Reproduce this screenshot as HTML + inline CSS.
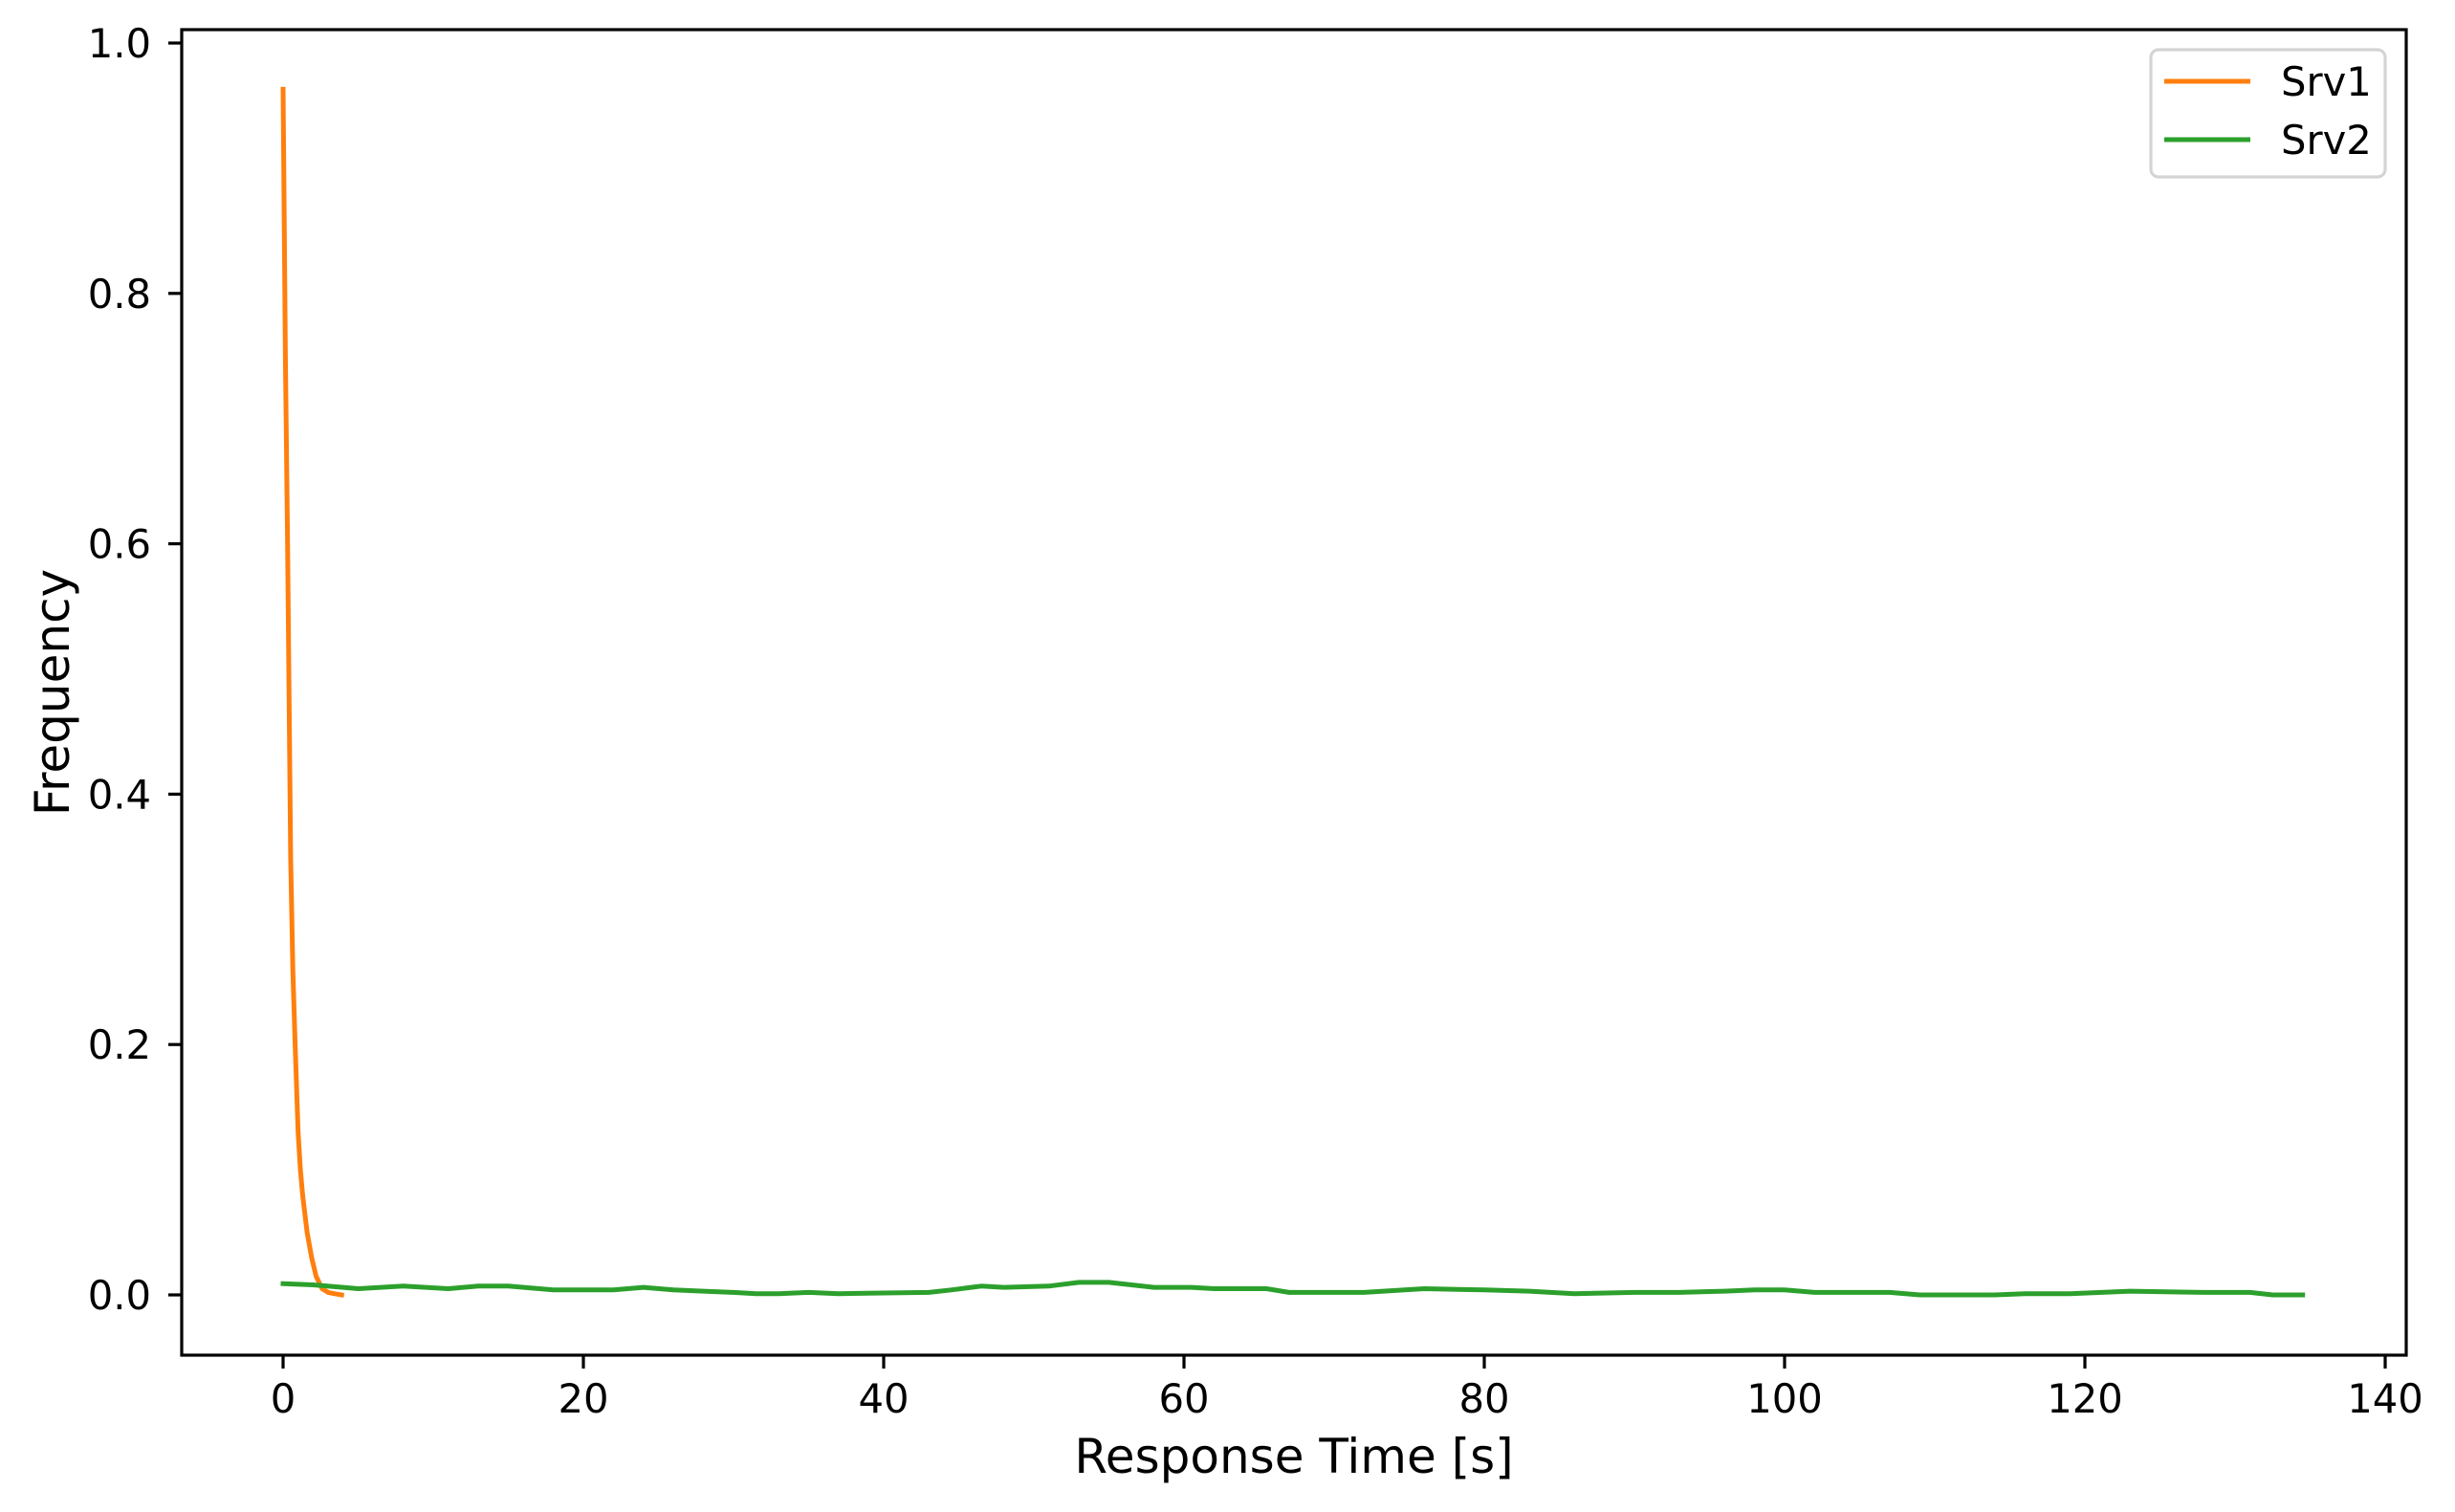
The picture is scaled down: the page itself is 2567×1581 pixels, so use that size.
<!DOCTYPE html>
<html><head><meta charset="utf-8"><style>
html,body{margin:0;padding:0;background:#fff;}
svg{display:block;font-family:"DejaVu Sans","Liberation Sans",sans-serif;}
</style></head><body>
<svg id="chart" width="2567" height="1581" viewBox="0 0 2567 1581" xmlns="http://www.w3.org/2000/svg">
<rect width="2567" height="1581" fill="#fff"/>
<g id="plot"></g>
<g id="axes"></g>
</svg>
<script>
const xTicks=[0,20,40,60,80,100,120,140];
const yTicks=[0.0,0.2,0.4,0.6,0.8,1.0];
const yTickLabels=["0.0","0.2","0.4","0.6","0.8","1.0"];
const srv1X=[0,0.15,0.3,0.5,0.65,0.8,1.0,1.15,1.3,1.6,1.9,2.2,2.6,3.0,3.4,3.9];
const srv1Y=[0.963,0.75,0.6,0.35,0.26,0.2,0.13,0.1,0.08,0.05,0.03,0.015,0.005,0.002,0.001,0.0];
const srv2X=[0,2,4,5,8,11,13,15,18,20,22,24,26,28,30,31.5,33,35,37,40,43,44.5,46.5,48,51,53,55,58,60.5,62,65.5,67,70,72,76,80,83,86,90,93,96,98,100,102,107,109,114,116,119,123,128,131,132.5,134.5];
const srv2Y=[0.009,0.008,0.006,0.005,0.007,0.005,0.007,0.007,0.004,0.004,0.004,0.006,0.004,0.003,0.002,0.001,0.001,0.002,0.001,0.0015,0.002,0.004,0.007,0.006,0.007,0.010,0.010,0.006,0.006,0.005,0.005,0.002,0.002,0.002,0.005,0.004,0.003,0.001,0.002,0.002,0.003,0.004,0.004,0.002,0.002,0.0,0.0,0.001,0.001,0.003,0.002,0.002,0.0,0.0];
const L=190,R=2516,T=31,B=1417;
const X=v=>296+v*15.7;
const Y=v=>1354-v*1309;
const NS="http://www.w3.org/2000/svg";
function mk(tag,attrs,parent,text){const e=document.createElementNS(NS,tag);for(const k in attrs)e.setAttribute(k,attrs[k]);if(text!==undefined)e.textContent=text;parent.appendChild(e);return e;}
const plot=document.getElementById('plot'),axes=document.getElementById('axes');
function line(xs,ys,color,name){
  const d=xs.map((x,i)=>(i?'L':'M')+X(x).toFixed(1)+','+Y(ys[i]).toFixed(1)).join(' ');
  const p=mk('path',{d:d,fill:'none',stroke:color,'stroke-width':5,'stroke-linejoin':'round','stroke-linecap':'square'},plot);
  
  
}
line(srv1X,srv1Y,'#ff7f0e','srv1-line');
line(srv2X,srv2Y,'#2ca02c','srv2-line');
const frame=mk('rect',{x:L,y:T,width:R-L,height:B-T,fill:'none',stroke:'#000','stroke-width':3.2},axes);


xTicks.forEach(v=>{
  const x=X(v);
  const t=mk('line',{x1:x,x2:x,y1:B,y2:B+14,stroke:'#000','stroke-width':3.2},axes);
  
  
  const lb=mk('text',{x:x,y:1477,'font-size':41.7,'text-anchor':'middle'},axes,String(v));
  
  
});
yTicks.forEach((v,i)=>{
  const y=Y(v);
  const t=mk('line',{x1:L-14,x2:L,y1:y,y2:y,stroke:'#000','stroke-width':3.2},axes);
  
  
  const lb=mk('text',{x:158,y:y+15,'font-size':41.7,'text-anchor':'end'},axes,yTickLabels[i]);
  
  
});
const xl=mk('text',{x:1353,y:1540,'font-size':50,'text-anchor':'middle'},axes,'Response Time [s]');


const yl=mk('text',{x:0,y:0,'font-size':50,'text-anchor':'middle',transform:'translate(72,724) rotate(-90)'},axes,'Frequency');


const lg=mk('g',{},axes);


mk('rect',{x:2249,y:52,width:245,height:133,rx:8,fill:'#fff','fill-opacity':0.8,stroke:'#d4d4d4','stroke-width':3.2},lg);
[['Srv1','#ff7f0e',85],['Srv2','#2ca02c',146]].forEach(([n,c,y])=>{
  const e=mk('g',{},lg);
  
  
  mk('line',{x1:2263,x2:2353,y1:y,y2:y,stroke:c,'stroke-width':5},e);
  mk('text',{x:2385,y:y+15,'font-size':41.7},e,n);
});
</script>
</body></html>
